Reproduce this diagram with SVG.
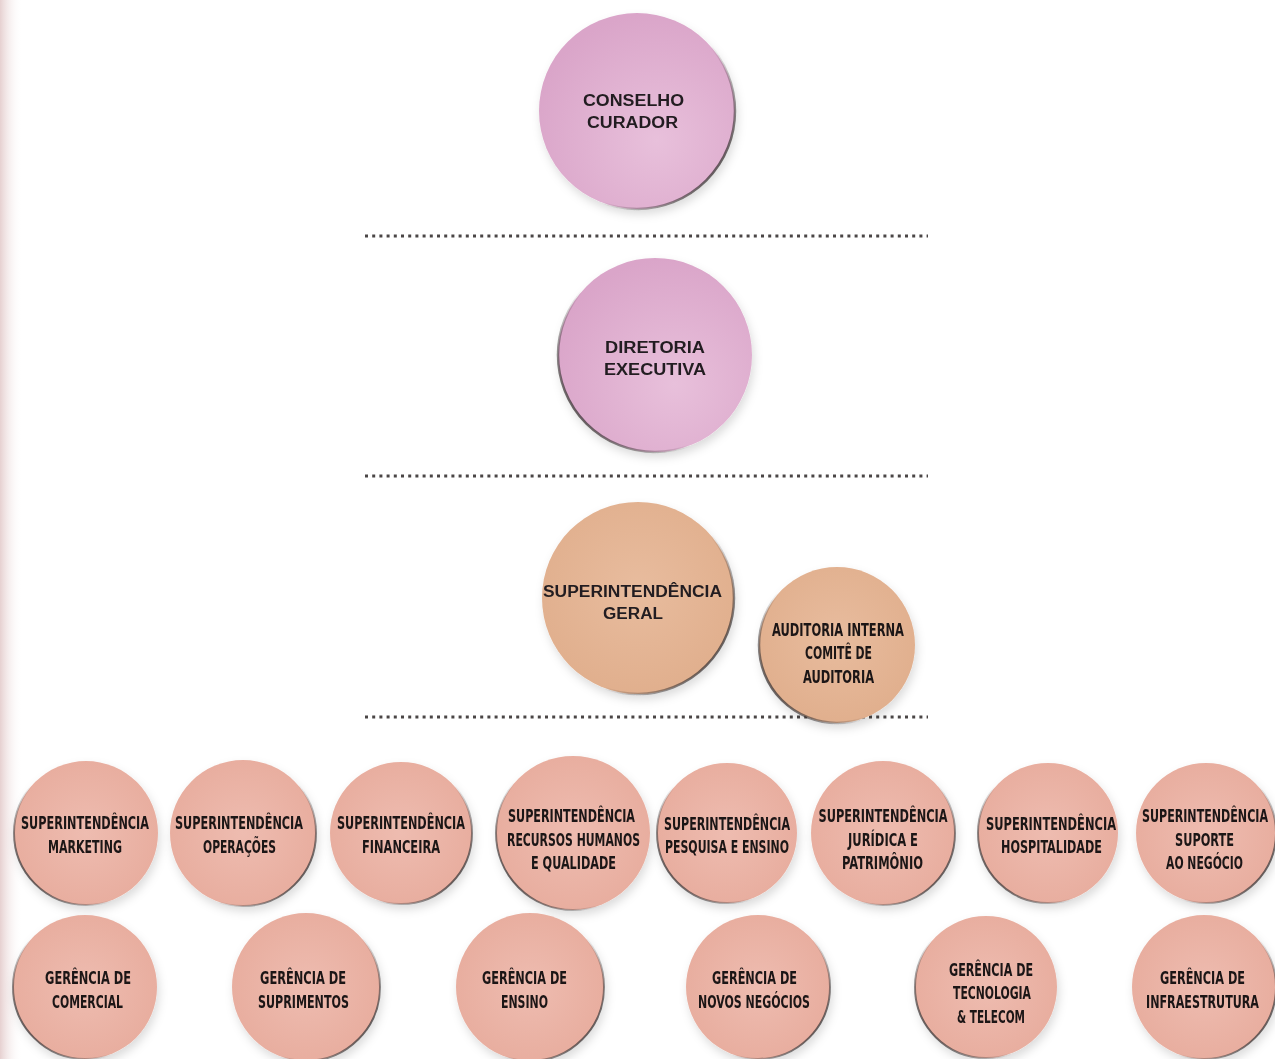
<svg xmlns="http://www.w3.org/2000/svg" width="1275" height="1059" viewBox="0 0 1275 1059">
<defs>
  <style>
    .top { font-family: "Liberation Sans", Arial, sans-serif; font-weight: bold; font-size: 16px; fill: #231f20; text-anchor: middle; }
    .cnd { font-family: "Liberation Sans Narrow", "DejaVu Sans Condensed", "Liberation Sans", sans-serif; font-weight: bold; font-size: 18px; fill: #1a1516; text-anchor: middle; }
    .dots { stroke: #4a4646; stroke-width: 3; stroke-dasharray: 3 4.2; fill: none; }
    .node { filter: url(#shadow); }
  </style>
  <linearGradient id="sideBg" x1="0" y1="0" x2="1" y2="0">
    <stop offset="0" stop-color="#e6d0d0"/>
    <stop offset="1" stop-color="#ffffff" stop-opacity="0"/>
  </linearGradient>
  <radialGradient id="gPink" cx="0.6" cy="0.65" r="0.65">
    <stop offset="0" stop-color="#e8c0db"/>
    <stop offset="1" stop-color="#daa5c9"/>
  </radialGradient>
  <radialGradient id="gTan" cx="0.5" cy="0.45" r="0.6">
    <stop offset="0" stop-color="#e8bc9e"/>
    <stop offset="1" stop-color="#e0ae8c"/>
  </radialGradient>
  <radialGradient id="gSal" cx="0.5" cy="0.5" r="0.6">
    <stop offset="0" stop-color="#eebcb0"/>
    <stop offset="1" stop-color="#e7ab9c"/>
  </radialGradient>
  <linearGradient id="edgeR" x1="0" y1="0.15" x2="1" y2="0.85">
    <stop offset="0" stop-color="#3a3434" stop-opacity="0"/>
    <stop offset="0.6" stop-color="#3a3434" stop-opacity="0"/>
    <stop offset="1" stop-color="#3a3434" stop-opacity="0.95"/>
  </linearGradient>
  <linearGradient id="edgeL" x1="1" y1="0.15" x2="0" y2="0.85">
    <stop offset="0" stop-color="#3a3434" stop-opacity="0"/>
    <stop offset="0.6" stop-color="#3a3434" stop-opacity="0"/>
    <stop offset="1" stop-color="#3a3434" stop-opacity="0.95"/>
  </linearGradient>
  <filter id="shadow" x="-20%" y="-20%" width="140%" height="145%">
    <feDropShadow dx="2" dy="5" stdDeviation="5" flood-color="#000" flood-opacity="0.14"/>
  </filter>
</defs>

<rect x="0" y="0" width="1275" height="1059" fill="#ffffff"/>
<rect x="0" y="0" width="22" height="1059" fill="url(#sideBg)"/>

<g id="connectors">
  <line class="dots" x1="365" y1="236" x2="928" y2="236"/>
  <line class="dots" x1="365" y1="476" x2="928" y2="476"/>
  <line class="dots" x1="365" y1="717" x2="928" y2="717"/>
</g>

<g id="conselho-curador" class="node">
  <circle cx="637" cy="111" r="98" fill="url(#gPink)" stroke="url(#edgeR)" stroke-width="2.5"/>
  <text class="top" x="633.5" y="106" textLength="101" lengthAdjust="spacingAndGlyphs">CONSELHO</text>
  <text class="top" x="632.5" y="128" textLength="91" lengthAdjust="spacingAndGlyphs">CURADOR</text>
</g>

<g id="diretoria-executiva" class="node">
  <circle cx="655" cy="355" r="97" fill="url(#gPink)" stroke="url(#edgeL)" stroke-width="2.5"/>
  <text class="top" x="655" y="353" textLength="100" lengthAdjust="spacingAndGlyphs">DIRETORIA</text>
  <text class="top" x="655" y="375" textLength="102" lengthAdjust="spacingAndGlyphs">EXECUTIVA</text>
</g>

<g id="superintendencia-geral" class="node">
  <circle cx="638" cy="598" r="96" fill="url(#gTan)" stroke="url(#edgeR)" stroke-width="2.5"/>
  <text class="top" x="632.5" y="597" textLength="179" lengthAdjust="spacingAndGlyphs">SUPERINTENDÊNCIA</text>
  <text class="top" x="633" y="619" textLength="60" lengthAdjust="spacingAndGlyphs">GERAL</text>
</g>

<g id="auditoria-interna" class="node">
  <circle cx="837" cy="645" r="78" fill="url(#gTan)" stroke="url(#edgeL)" stroke-width="2.5"/>
  <text class="cnd" transform="translate(838 636) scale(0.72 1)" textLength="183.3" lengthAdjust="spacingAndGlyphs">AUDITORIA INTERNA</text>
  <text class="cnd" transform="translate(838.5 659) scale(0.72 1)" textLength="93.1" lengthAdjust="spacingAndGlyphs">COMITÊ DE</text>
  <text class="cnd" transform="translate(838.5 683) scale(0.72 1)" textLength="98.6" lengthAdjust="spacingAndGlyphs">AUDITORIA</text>
</g>

<!-- Row 1 -->
<g id="sup-marketing" class="node">
  <circle cx="86" cy="833" r="72" fill="url(#gSal)" stroke="url(#edgeL)" stroke-width="2"/>
  <text class="cnd" transform="translate(85 829) scale(0.72 1)" textLength="177.8" lengthAdjust="spacingAndGlyphs">SUPERINTENDÊNCIA</text>
  <text class="cnd" transform="translate(85 853) scale(0.72 1)" textLength="102.8" lengthAdjust="spacingAndGlyphs">MARKETING</text>
</g>

<g id="sup-operacoes" class="node">
  <circle cx="243" cy="833" r="73" fill="url(#gSal)" stroke="url(#edgeR)" stroke-width="2"/>
  <text class="cnd" transform="translate(239 829) scale(0.72 1)" textLength="177.8" lengthAdjust="spacingAndGlyphs">SUPERINTENDÊNCIA</text>
  <text class="cnd" transform="translate(239.5 853) scale(0.72 1)" textLength="101.4" lengthAdjust="spacingAndGlyphs">OPERAÇÕES</text>
</g>

<g id="sup-financeira" class="node">
  <circle cx="401" cy="833" r="71" fill="url(#gSal)" stroke="url(#edgeR)" stroke-width="2"/>
  <text class="cnd" transform="translate(401 829) scale(0.72 1)" textLength="177.8" lengthAdjust="spacingAndGlyphs">SUPERINTENDÊNCIA</text>
  <text class="cnd" transform="translate(401 853) scale(0.72 1)" textLength="108.3" lengthAdjust="spacingAndGlyphs">FINANCEIRA</text>
</g>

<g id="sup-rh" class="node">
  <circle cx="573" cy="833" r="77" fill="url(#gSal)" stroke="url(#edgeL)" stroke-width="2"/>
  <text class="cnd" transform="translate(571.5 822) scale(0.72 1)" textLength="176.4" lengthAdjust="spacingAndGlyphs">SUPERINTENDÊNCIA</text>
  <text class="cnd" transform="translate(573.5 846) scale(0.72 1)" textLength="184.7" lengthAdjust="spacingAndGlyphs">RECURSOS HUMANOS</text>
  <text class="cnd" transform="translate(573.5 869) scale(0.72 1)" textLength="118.1" lengthAdjust="spacingAndGlyphs">E QUALIDADE</text>
</g>

<g id="sup-pesquisa" class="node">
  <circle cx="727" cy="833" r="70" fill="url(#gSal)" stroke="url(#edgeL)" stroke-width="2"/>
  <text class="cnd" transform="translate(727 830) scale(0.72 1)" textLength="175" lengthAdjust="spacingAndGlyphs">SUPERINTENDÊNCIA</text>
  <text class="cnd" transform="translate(727 853) scale(0.72 1)" textLength="172.2" lengthAdjust="spacingAndGlyphs">PESQUISA E ENSINO</text>
</g>

<g id="sup-juridica" class="node">
  <circle cx="883" cy="833" r="72" fill="url(#gSal)" stroke="url(#edgeR)" stroke-width="2"/>
  <text class="cnd" transform="translate(883 822) scale(0.72 1)" textLength="179.2" lengthAdjust="spacingAndGlyphs">SUPERINTENDÊNCIA</text>
  <text class="cnd" transform="translate(883 846) scale(0.72 1)" textLength="97.2" lengthAdjust="spacingAndGlyphs">JURÍDICA E</text>
  <text class="cnd" transform="translate(882.5 869) scale(0.72 1)" textLength="112.5" lengthAdjust="spacingAndGlyphs">PATRIMÔNIO</text>
</g>

<g id="sup-hospitalidade" class="node">
  <circle cx="1048" cy="833" r="70" fill="url(#gSal)" stroke="url(#edgeL)" stroke-width="2"/>
  <text class="cnd" transform="translate(1051 830) scale(0.72 1)" textLength="180.6" lengthAdjust="spacingAndGlyphs">SUPERINTENDÊNCIA</text>
  <text class="cnd" transform="translate(1051.5 853) scale(0.72 1)" textLength="140.3" lengthAdjust="spacingAndGlyphs">HOSPITALIDADE</text>
</g>

<g id="sup-suporte" class="node">
  <circle cx="1206" cy="833" r="70" fill="url(#gSal)" stroke="url(#edgeR)" stroke-width="2"/>
  <text class="cnd" transform="translate(1205 822) scale(0.72 1)" textLength="175" lengthAdjust="spacingAndGlyphs">SUPERINTENDÊNCIA</text>
  <text class="cnd" transform="translate(1204.5 846) scale(0.72 1)" textLength="81.9" lengthAdjust="spacingAndGlyphs">SUPORTE</text>
  <text class="cnd" transform="translate(1204.5 869) scale(0.72 1)" textLength="106.9" lengthAdjust="spacingAndGlyphs">AO NEGÓCIO</text>
</g>

<!-- Row 2 -->
<g id="ger-comercial" class="node">
  <circle cx="85" cy="987" r="72" fill="url(#gSal)" stroke="url(#edgeL)" stroke-width="2"/>
  <text class="cnd" transform="translate(88 984) scale(0.72 1)" textLength="119.4" lengthAdjust="spacingAndGlyphs">GERÊNCIA DE</text>
  <text class="cnd" transform="translate(87.5 1008) scale(0.72 1)" textLength="98.6" lengthAdjust="spacingAndGlyphs">COMERCIAL</text>
</g>

<g id="ger-suprimentos" class="node">
  <circle cx="306" cy="987" r="74" fill="url(#gSal)" stroke="url(#edgeR)" stroke-width="2"/>
  <text class="cnd" transform="translate(303 984) scale(0.72 1)" textLength="119.4" lengthAdjust="spacingAndGlyphs">GERÊNCIA DE</text>
  <text class="cnd" transform="translate(303.5 1008) scale(0.72 1)" textLength="126.4" lengthAdjust="spacingAndGlyphs">SUPRIMENTOS</text>
</g>

<g id="ger-ensino" class="node">
  <circle cx="530" cy="987" r="74" fill="url(#gSal)" stroke="url(#edgeR)" stroke-width="2"/>
  <text class="cnd" transform="translate(524.5 984) scale(0.72 1)" textLength="118.1" lengthAdjust="spacingAndGlyphs">GERÊNCIA DE</text>
  <text class="cnd" transform="translate(524.5 1008) scale(0.72 1)" textLength="65.3" lengthAdjust="spacingAndGlyphs">ENSINO</text>
</g>

<g id="ger-novos-negocios" class="node">
  <circle cx="758" cy="987" r="72" fill="url(#gSal)" stroke="url(#edgeR)" stroke-width="2"/>
  <text class="cnd" transform="translate(754.5 984) scale(0.72 1)" textLength="118.1" lengthAdjust="spacingAndGlyphs">GERÊNCIA DE</text>
  <text class="cnd" transform="translate(754 1008) scale(0.72 1)" textLength="155.6" lengthAdjust="spacingAndGlyphs">NOVOS NEGÓCIOS</text>
</g>

<g id="ger-tecnologia" class="node">
  <circle cx="986" cy="987" r="71" fill="url(#gSal)" stroke="url(#edgeL)" stroke-width="2"/>
  <text class="cnd" transform="translate(991 976) scale(0.72 1)" textLength="116.7" lengthAdjust="spacingAndGlyphs">GERÊNCIA DE</text>
  <text class="cnd" transform="translate(992 999) scale(0.72 1)" textLength="108.3" lengthAdjust="spacingAndGlyphs">TECNOLOGIA</text>
  <text class="cnd" transform="translate(991 1023) scale(0.72 1)" textLength="94.4" lengthAdjust="spacingAndGlyphs">&amp; TELECOM</text>
</g>

<g id="ger-infraestrutura" class="node">
  <circle cx="1204" cy="987" r="72" fill="url(#gSal)" stroke="url(#edgeR)" stroke-width="2"/>
  <text class="cnd" transform="translate(1202.5 984) scale(0.72 1)" textLength="118.1" lengthAdjust="spacingAndGlyphs">GERÊNCIA DE</text>
  <text class="cnd" transform="translate(1202.5 1008) scale(0.72 1)" textLength="156.9" lengthAdjust="spacingAndGlyphs">INFRAESTRUTURA</text>
</g>
</svg>
